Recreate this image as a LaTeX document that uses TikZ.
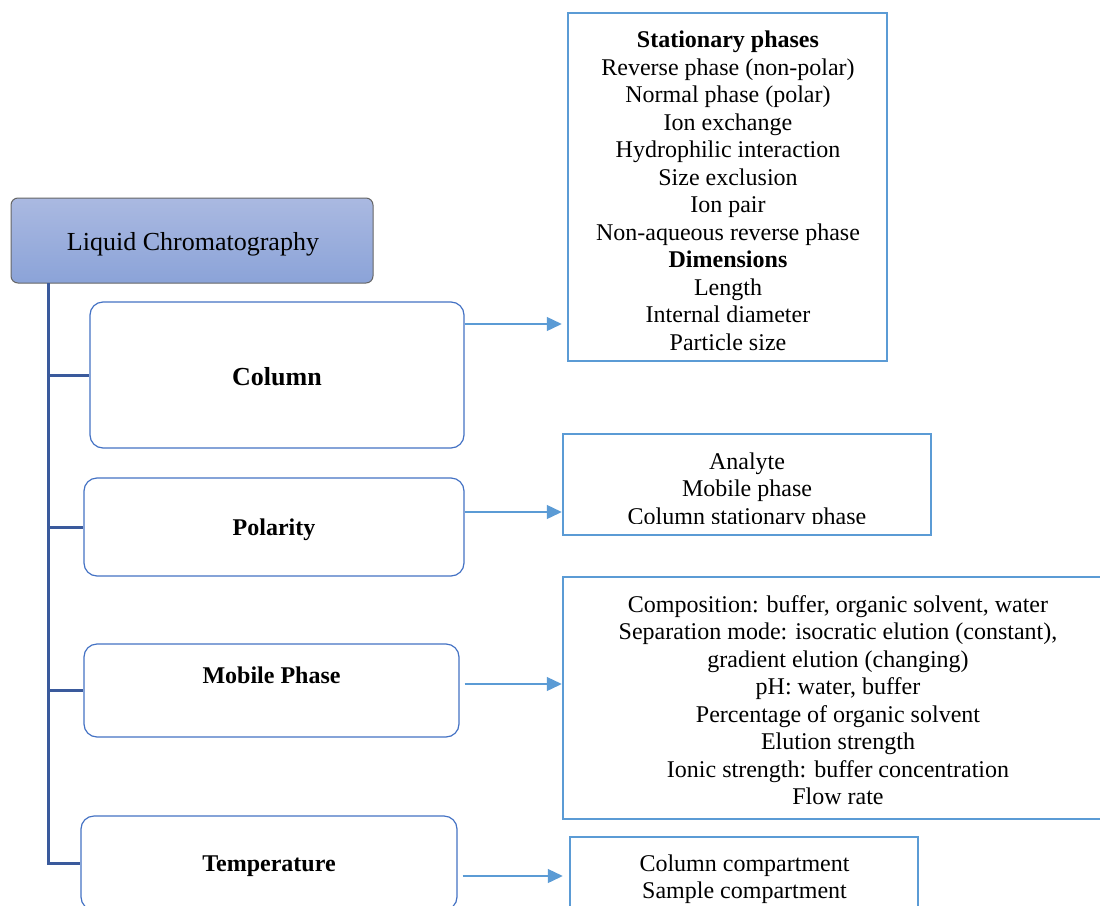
\documentclass[tikz,border=0pt]{standalone}
\usepackage{fontspec}
\setmainfont{Liberation Serif}
\usetikzlibrary{arrows.meta}
\definecolor{trunkc}{HTML}{3A5A9C}
\definecolor{childc}{HTML}{4472C4}
\definecolor{boxc}{HTML}{5B9BD5}
\definecolor{ttop}{HTML}{AAB9E1}
\definecolor{tbot}{HTML}{8BA3D8}
\tikzset{
 txt/.style={font=\fontsize{24}{27.5}\selectfont, align=center, inner sep=0pt},
 childbox/.style={draw=childc, line width=1.2pt, rounded corners=13pt, fill=white, inner sep=0pt},
 childtxt/.style={inner sep=0pt, font=\bfseries\fontsize{24}{27.5}\selectfont},
 infobox/.style={draw=boxc, line width=2.5pt, fill=white, inner sep=0pt},
 arr/.style={draw=boxc, line width=1.3pt, -{Triangle[length=15pt,width=14pt]}},
 trunkline/.style={draw=trunkc, line width=3pt},
}
\begin{document}
\begin{tikzpicture}[x=1pt,y=-1pt]
\useasboundingbox (0,0) rectangle (1100,905);
\clip (0,0) rectangle (1100,905);
\fill[white] (0,0) rectangle (1100,905);

% title
\node[draw=black!60, line width=1pt, rounded corners=7pt, top color=ttop, bottom color=tbot,
  minimum width=362pt, minimum height=85pt, inner sep=0pt] (lc) at (192,240.5) {};
\node[inner sep=0pt, font=\fontsize{26}{30}\selectfont] (lct) at (193,244) {Liquid Chromatography};

% child boxes
\node[childbox, minimum width=374pt, minimum height=146pt] (col) at (277,375) {};
\node[childtxt, font=\bfseries\fontsize{26}{30}\selectfont] (colt) at (277,377) {Column};
\node[childbox, minimum width=380pt, minimum height=98pt] (pol) at (274,527) {};
\node[childtxt] (polt) at (274,530) {Polarity};
\node[childbox, minimum width=375pt, minimum height=93pt] (mob) at (271.5,690.5) {};
\node[childtxt] (mobt) at (271.5,675) {Mobile Phase};
\node[childbox, minimum width=376pt, minimum height=94pt] (tem) at (269,863) {};
\node[childtxt] (temt) at (269,866) {Temperature};

% trunk
\coordinate (trunktop) at (48,283);
\draw[trunkline] (trunktop) |- (tem.west);
\draw[trunkline] (trunktop |- col.west) -- (col.west);
\draw[trunkline] (trunktop |- pol.west) -- (pol.west);
\draw[trunkline] (trunktop |- mob.west) -- (mob.west);

% right boxes
\node[infobox, minimum width=319pt, minimum height=348pt] (sp) at (727.5,187) {};
\node[txt] (spt) at (728,191) {\textbf{Stationary phases}\\Reverse phase (non-polar)\\Normal phase (polar)\\Ion exchange\\Hydrophilic interaction\\Size exclusion\\Ion pair\\Non-aqueous reverse phase\\\textbf{Dimensions}\\Length\\Internal diameter\\Particle size};

\node[infobox, minimum width=368pt, minimum height=101pt] (pl) at (747,484.5) {};
\begin{scope}
\clip (565,436) rectangle (929,523);
\node[txt] (plt) at (747,491) {Analyte\\Mobile phase\\Column stationary phase};
\end{scope}

\node[infobox, minimum width=550pt, minimum height=242pt] (mp) at (838,698) {};
\node[txt] (mpt) at (838,700) {Composition: buffer, organic solvent, water\\Separation mode: isocratic elution (constant),\\gradient elution (changing)\\pH: water, buffer\\Percentage of organic solvent\\Elution strength\\Ionic strength: buffer concentration\\Flow rate};

\node[infobox, minimum width=348pt, minimum height=80pt] (tp) at (744,877) {};
\node[txt] (tpt) at (744.5,879) {Column compartment\\Sample compartment};

% arrows
\coordinate (ya) at (0,324);
\coordinate (yb) at (0,512);
\coordinate (yc) at (0,684);
\coordinate (yd) at (0,876);
\draw[arr, shorten >=5pt] (col.east |- ya) -- (sp.west |- ya);
\draw[arr] (pol.east |- yb) -- (pl.west |- yb);
\draw[arr, shorten <=5pt] (mob.east |- yc) -- (mp.west |- yc);
\draw[arr, shorten <=5pt, shorten >=6pt] (tem.east |- yd) -- (tp.west |- yd);
\end{tikzpicture}
\end{document}
